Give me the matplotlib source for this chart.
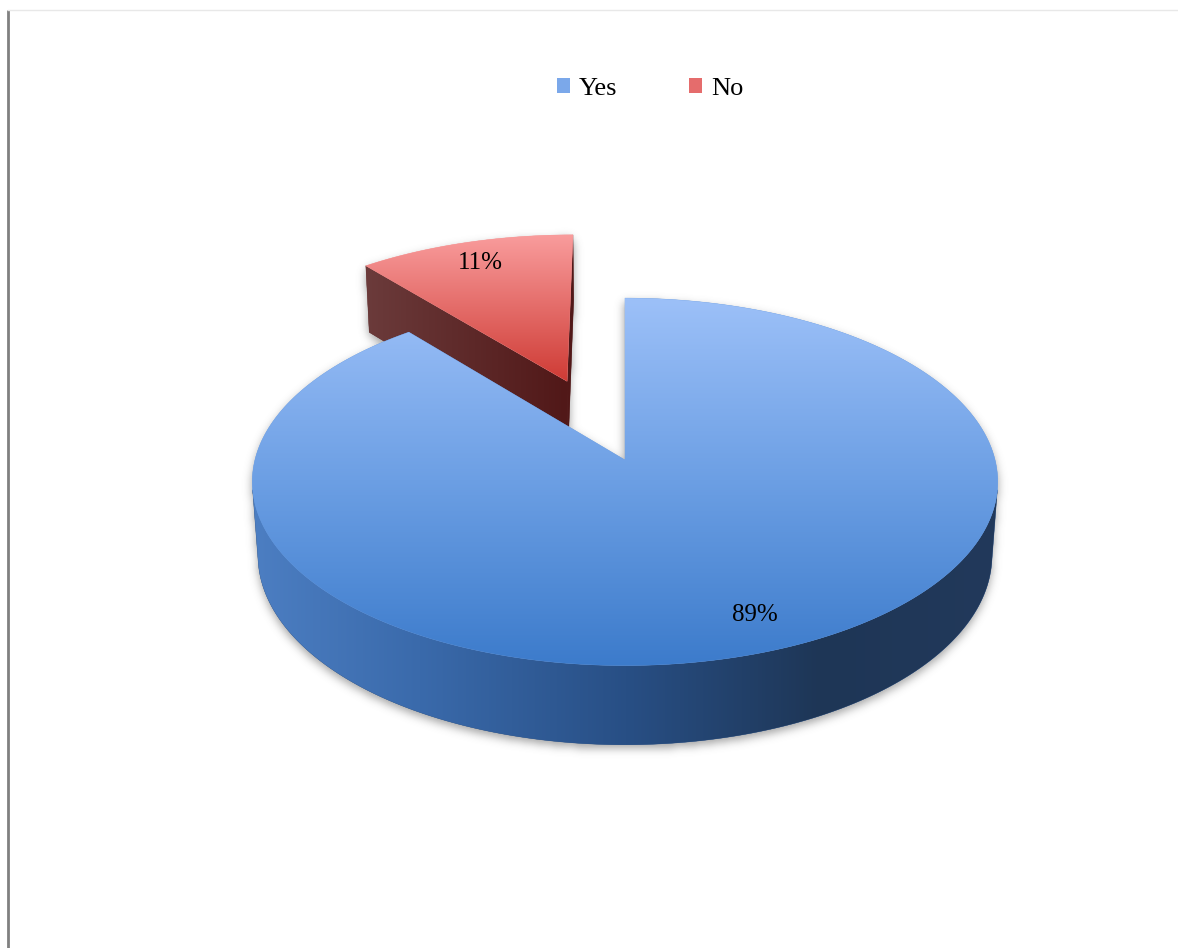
import numpy as np
import matplotlib
matplotlib.use('Agg')
import matplotlib.pyplot as plt
from matplotlib.path import Path
from matplotlib.patches import Polygon, Patch
from matplotlib.colors import to_rgb

# ---------------- data ----------------
categories = ['Yes', 'No']
values = [89, 11]
explode = [0.0, 0.487]
legend_colors = ['#7ba8ea', '#e56c6c']

# ---------------- style ----------------
top_stops = [([300, 480, 666], ['#9cc0f8', '#6c9fe4', '#3c7bcb']),
             ([235, 380], ['#f99c9c', '#cf3c36'])]
side_stops = [([255, 420, 626, 820, 1000],
               ['#4c7ec2', '#3a6aab', '#284f85', '#1e3656', '#22395b']),
              ([360, 567], ['#6c3c3c', '#511818'])]
label_angle_adjust = [-2.5, 0.0]   # degrees, label placement tweak per slice

W, H = 1178, 948
CX, CY = 625.0, 460.0
FOC = 2720.0
PHI = np.radians(29.3)
SN, CS = np.sin(PHI), np.cos(PHI)
DIST = 7.35
THICK = 0.23
LABEL_R = 0.84
CAM = np.array([0.0, -DIST * CS, DIST * SN])


def proj(u, v, z):
    u, v, z = np.broadcast_arrays(np.atleast_1d(np.asarray(u, float)),
                                  np.atleast_1d(np.asarray(v, float)),
                                  np.atleast_1d(np.asarray(z, float)))
    d = DIST + v * CS - z * SN
    return np.column_stack([CX + FOC * u / d, CY - FOC * (v * SN + z * CS) / d])


fig = plt.figure(figsize=(W / 100, H / 100), dpi=100)
ax = fig.add_axes([0, 0, 1, 1])
ax.set_xlim(0, W)
ax.set_ylim(H, 0)
ax.axis('off')


def grad_poly(verts, axis, pos, cols, z):
    verts = np.asarray(verts)
    cols = np.array([to_rgb(c) for c in cols])
    x0, y0 = np.floor(verts.min(0)) - 2
    x1, y1 = np.ceil(verts.max(0)) + 2
    if axis == 'y':
        coord = np.linspace(y0, y1, int(y1 - y0) + 1)
        rgb = np.stack([np.interp(coord, pos, cols[:, k]) for k in range(3)], -1)
        img = np.repeat(rgb[:, None, :], 2, axis=1)
    else:
        coord = np.linspace(x0, x1, int(x1 - x0) + 1)
        rgb = np.stack([np.interp(coord, pos, cols[:, k]) for k in range(3)], -1)
        img = np.repeat(rgb[None, :, :], 2, axis=0)
    cen = verts.mean(0)
    cc = cen[1] if axis == 'y' else cen[0]
    midc = [np.interp(cc, pos, cols[:, k]) for k in range(3)]
    base = Polygon(verts, closed=True, facecolor=midc, edgecolor=midc, lw=0.3, zorder=z)
    ax.add_patch(base)
    im = ax.imshow(img, extent=(x0, x1, y1, y0), origin='upper', aspect='auto',
                   interpolation='bilinear', zorder=z + 0.1)
    clip = Polygon(verts, closed=True, facecolor='none', edgecolor='none',
                   transform=ax.transData)
    im.set_clip_path(clip)


# ---------------- geometry from data ----------------
total = float(sum(values))
fracs = np.array(values, float) / total
bounds = np.concatenate([[0.0], np.cumsum(fracs)]) * 2 * np.pi
slices = []
for i in range(len(values)):
    t0, t1 = bounds[i], bounds[i + 1]
    tm = 0.5 * (t0 + t1)
    ox, oy = explode[i] * np.sin(tm), explode[i] * np.cos(tm)
    slices.append(dict(i=i, t0=t0, t1=t1, tm=tm, ox=ox, oy=oy, depth=DIST + oy * CS))


def slice_faces(s):
    t0, t1, ox, oy = s['t0'], s['t1'], s['ox'], s['oy']
    n = max(16, int(np.degrees(t1 - t0) * 2))
    tt = np.linspace(t0, t1, n)
    top = np.vstack([proj(ox, oy, 0), proj(ox + np.sin(tt), oy + np.cos(tt), 0)])
    sides = []
    for t, nrm in ((t0, np.array([-np.cos(t0), np.sin(t0), 0.0])),
                   (t1, np.array([np.cos(t1), -np.sin(t1), 0.0]))):
        p = np.array([ox + 0.5 * np.sin(t), oy + 0.5 * np.cos(t), -THICK / 2])
        if np.dot(nrm, CAM - p) > 0:
            q = proj([ox, ox + np.sin(t), ox + np.sin(t), ox],
                     [oy, oy + np.cos(t), oy + np.cos(t), oy],
                     [0, 0, -THICK, -THICK])
            sides.append(q)
    vis = (-1 - ox * np.sin(tt) - (DIST * CS + oy) * np.cos(tt)) > 0
    idx = np.where(vis)[0]
    if len(idx):
        runs = np.split(idx, np.where(np.diff(idx) > 1)[0] + 1)
        for r in runs:
            if len(r) < 2:
                continue
            tr = tt[r]
            upper = proj(ox + np.sin(tr), oy + np.cos(tr), 0)
            lower = proj(ox + np.sin(tr[::-1]), oy + np.cos(tr[::-1]), -THICK)
            sides.append(np.vstack([upper, lower]))
    return top, sides


order = sorted(slices, key=lambda s: -s['depth'])
all_faces = {s['i']: slice_faces(s) for s in slices}

# ---------------- soft shadow ----------------
nx, ny = W // 2, H // 2
gx = (np.arange(nx) + 0.5) * W / nx
gy = (np.arange(ny) + 0.5) * H / ny
GX, GY = np.meshgrid(gx, gy)
pts = np.column_stack([GX.ravel(), GY.ravel()])
mask = np.zeros(len(pts), bool)
for i, (top, sides) in all_faces.items():
    for poly in [top] + sides:
        mask |= Path(poly).contains_points(pts)
mask = mask.reshape(ny, nx).astype(float)


def blur(a, sigma):
    r = int(3 * sigma) + 1
    k = np.exp(-0.5 * (np.arange(-r, r + 1) / sigma) ** 2)
    k /= k.sum()
    a = np.apply_along_axis(lambda m: np.convolve(m, k, mode='same'), 0, a)
    a = np.apply_along_axis(lambda m: np.convolve(m, k, mode='same'), 1, a)
    return a


sh = blur(mask, 2.2)
shimg = np.zeros((ny, nx, 4))
shimg[..., :3] = 0.35
shimg[..., 3] = np.clip(sh, 0, 1) * 0.55
ax.imshow(shimg, extent=(0, W, H + 4, 4), origin='upper', aspect='auto',
          interpolation='bilinear', zorder=1)

# ---------------- draw slices ----------------
z = 10
for s in order:
    i = s['i']
    top, sides = all_faces[i]
    for sd in sides:
        grad_poly(sd, 'x', side_stops[i][0], side_stops[i][1], z)
        z += 1
    grad_poly(top, 'y', top_stops[i][0], top_stops[i][1], z)
    z += 1

# ---------------- labels ----------------
for s in slices:
    ang = s['tm'] + np.radians(label_angle_adjust[s['i']])
    u = s['ox'] + LABEL_R * np.sin(ang)
    v = s['oy'] + LABEL_R * np.cos(ang)
    x, y = proj(u, v, 0)[0]
    ax.text(x, y, f"{fracs[s['i']] * 100:.0f}%", ha='center', va='center',
            family='Liberation Serif', size=18, color='black', zorder=60)

# ---------------- legend ----------------
handles = [Patch(facecolor=legend_colors[k], edgecolor='none', label=categories[k])
           for k in range(len(categories))]
ax.legend(handles=handles, loc='center', bbox_to_anchor=(650 / W, 1 - 89 / H),
          bbox_transform=fig.transFigure, ncol=2, frameon=False,
          prop={'family': 'Liberation Serif', 'size': 19},
          handlelength=0.52, handleheight=0.52, handletextpad=0.33,
          columnspacing=2.7)

# ---------------- frame lines ----------------
ax.plot([8, 8], [10, H], color='#808080', lw=2, zorder=70, solid_capstyle='butt')
ax.plot([8, W], [10, 10], color='#e8e8e8', lw=1, zorder=70)

fig.savefig('out.png', dpi=100)
